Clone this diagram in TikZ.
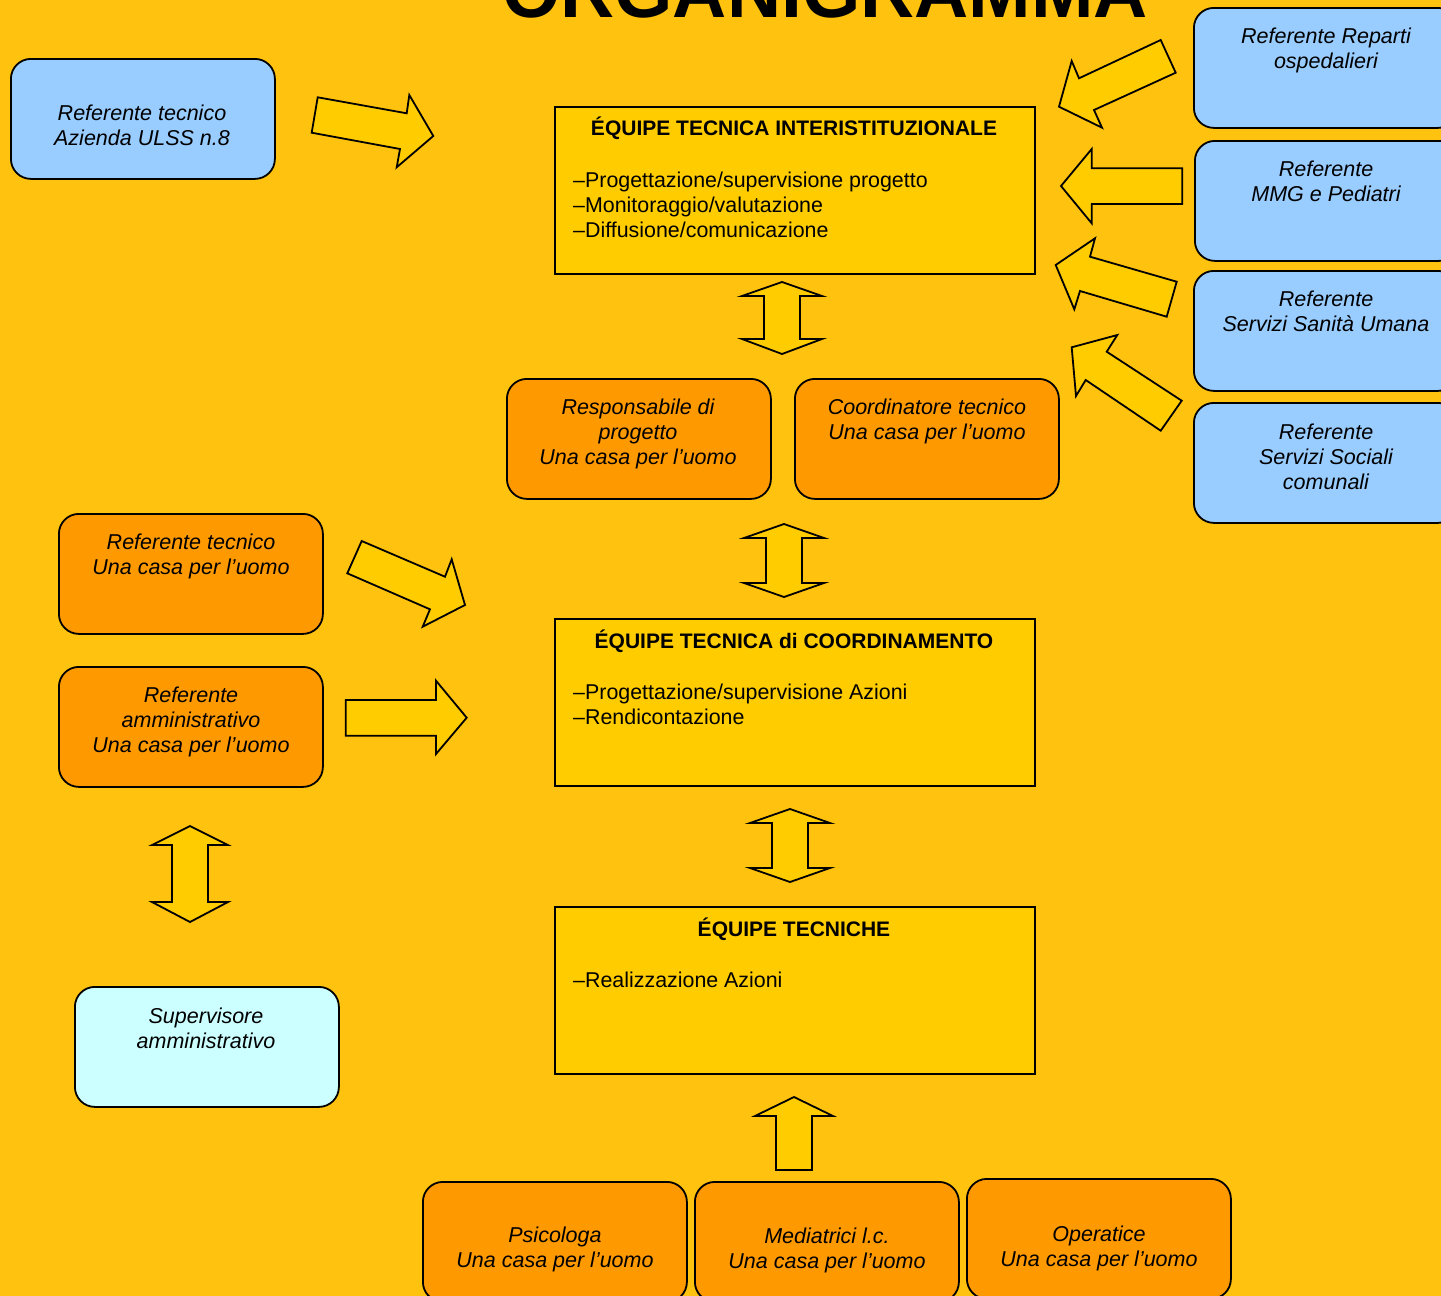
\documentclass[tikz,border=0pt]{standalone}
\usepackage{fontspec}
\setmainfont{Liberation Sans}
\definecolor{bgc}{HTML}{FFC20E}
\definecolor{boxc}{HTML}{FFCC00}
\definecolor{orc}{HTML}{FF9900}
\definecolor{blc}{HTML}{99CCFF}
\definecolor{cyc}{HTML}{CCFFFF}
\begin{document}
\begin{tikzpicture}[x=1pt,y=-1pt,
  rbox/.style={draw=black, line width=1.8pt, rounded corners=20pt, anchor=north west,
    minimum width=264pt, minimum height=120pt, inner sep=0pt},
  mbox/.style={draw=black, line width=2pt, fill=boxc, anchor=north west,
    minimum width=480pt, minimum height=167pt, inner sep=0pt},
  btxt/.style={font=\fontsize{21.5}{25}\selectfont\itshape, align=center, inner sep=0pt, anchor=base},
  htxt/.style={font=\fontsize{21}{25}\selectfont\bfseries, inner sep=0pt, anchor=base},
  ltxt/.style={font=\fontsize{21.4}{25}\selectfont, align=left, inner sep=0pt, anchor=base west},
  barrow/.style={draw=black, line width=1.8pt, fill=boxc, line join=miter}]
\useasboundingbox (0,0) rectangle (1441,1296);
\clip (0,0) rectangle (1441,1296);
\fill[bgc] (0,0) rectangle (1441,1296);

% title
\node[font=\fontsize{75}{80}\selectfont\bfseries, inner sep=0pt, anchor=base] (title) at (825,17) {ORGANIGRAMMA};

% main boxes (base anchor = baseline of the last line)
\node[mbox] (eq1) at (554,106) {};
\node[htxt] (eq1h) at (794,135) {ÉQUIPE TECNICA INTERISTITUZIONALE};
\node[ltxt] (eq1l) at (573,237) {\textendash Progettazione/supervisione progetto\\\textendash Monitoraggio/valutazione\\\textendash Diffusione/comunicazione};

\node[mbox] (eq2) at (554,618) {};
\node[htxt] (eq2h) at (794,648) {ÉQUIPE TECNICA di COORDINAMENTO};
\node[ltxt] (eq2l) at (573,724) {\textendash Progettazione/supervisione Azioni\\\textendash Rendicontazione};

\node[mbox] (eq3) at (554,906) {};
\node[htxt] (eq3h) at (794,936) {ÉQUIPE TECNICHE};
\node[ltxt] (eq3l) at (573,987) {\textendash Realizzazione Azioni};

% blue boxes
\node[rbox, fill=blc] (ulss) at (10,58) {};
\node[btxt] (ulsst) at (142,145) {Referente tecnico\\Azienda ULSS n.8};
\node[rbox, fill=blc] (rep) at (1193,7) {};
\node[btxt] (rept) at (1326,68) {Referente Reparti\\ospedalieri};
\node[rbox, fill=blc] (mmg) at (1194,140) {};
\node[btxt] (mmgt) at (1326,201) {Referente\\MMG e Pediatri};
\node[rbox, fill=blc] (ssu) at (1193,270) {};
\node[btxt] (ssut) at (1326,331) {Referente\\Servizi Sanità Umana};
\node[rbox, fill=blc] (ssc) at (1193,402) {};
\node[btxt] (ssct) at (1326,489) {Referente\\Servizi Sociali\\comunali};

% orange boxes
\node[rbox, fill=orc] (resp) at (506,378) {};
\node[btxt] (respt) at (638,464) {Responsabile di\\progetto\\Una casa per l’uomo};
\node[rbox, fill=orc] (coord) at (794,378) {};
\node[btxt] (coordt) at (927,439) {Coordinatore tecnico\\Una casa per l’uomo};
\node[rbox, fill=orc] (rtec) at (58,513) {};
\node[btxt] (rtect) at (191,574) {Referente tecnico\\Una casa per l’uomo};
\node[rbox, fill=orc] (ramm) at (58,666) {};
\node[btxt] (rammt) at (191,752) {Referente\\amministrativo\\Una casa per l’uomo};
\node[rbox, fill=cyc] (sup) at (74,986) {};
\node[btxt] (supt) at (206,1048) {Supervisore\\amministrativo};
\node[rbox, fill=orc] (psi) at (422,1181) {};
\node[btxt] (psit) at (555,1267) {Psicologa\\Una casa per l’uomo};
\node[rbox, fill=orc] (med) at (694,1181) {};
\node[btxt] (medt) at (827,1268) {Mediatrici l.c.\\Una casa per l’uomo};
\node[rbox, fill=orc] (ope) at (966,1178) {};
\node[btxt] (opet) at (1099,1266) {Operatice\\Una casa per l’uomo};

% block arrows
\draw[barrow] (317.7,97.3) -- (406.7,113.3) -- (409.3,95) -- (433.3,136) -- (396.7,167.3) -- (400,149) -- (311.7,132.7) -- cycle;
\draw[barrow] (1160.7,40) -- (1175.7,72.7) -- (1094,110) -- (1102,127.7) -- (1059,106.7) -- (1071.7,61) -- (1079,78.3) -- cycle;
\draw[barrow] (1182.3,168.3) -- (1182.3,204) -- (1091.7,204) -- (1091.7,223.3) -- (1061,186) -- (1091.7,149) -- (1091.7,168.3) -- cycle;
\draw[barrow] (1176.7,281.7) -- (1166.7,316.7) -- (1080,291) -- (1074.3,309.3) -- (1055.7,265) -- (1095,238.3) -- (1090,256.7) -- cycle;
\draw[barrow] (1181.7,400.7) -- (1160.7,430.7) -- (1085.7,380) -- (1076,396) -- (1071.7,347.3) -- (1117.3,335) -- (1106.7,351.7) -- cycle;
\draw[barrow] (782,282) -- (822,296) -- (800,296) -- (800,339) -- (822,339) -- (782,354) -- (742,339) -- (764,339) -- (764,296) -- (742,296) -- cycle;
\draw[barrow] (784,524) -- (824,538) -- (802,538) -- (802,583) -- (824,583) -- (784,597) -- (744,583) -- (766,583) -- (766,538) -- (744,538) -- cycle;
\draw[barrow] (790,809) -- (830,823) -- (808,823) -- (808,868) -- (830,868) -- (790,882) -- (750,868) -- (772,868) -- (772,823) -- (750,823) -- cycle;
\draw[barrow] (190,826) -- (228,845) -- (208,845) -- (208,902) -- (228,902) -- (190,922) -- (152,902) -- (172,902) -- (172,845) -- (152,845) -- cycle;
\draw[barrow] (794,1097) -- (833,1116) -- (812,1116) -- (812,1170) -- (776,1170) -- (776,1116) -- (755,1116) -- cycle;
\draw[barrow] (361.7,541) -- (445,576.7) -- (451.7,559.3) -- (465,605) -- (422.7,626.7) -- (430,609.3) -- (347.3,573.3) -- cycle;
\draw[barrow] (345.7,700) -- (436,700) -- (436,680.7) -- (466.7,717.7) -- (436,754) -- (436,735.7) -- (345.7,735.7) -- cycle;
\end{tikzpicture}
\end{document}
